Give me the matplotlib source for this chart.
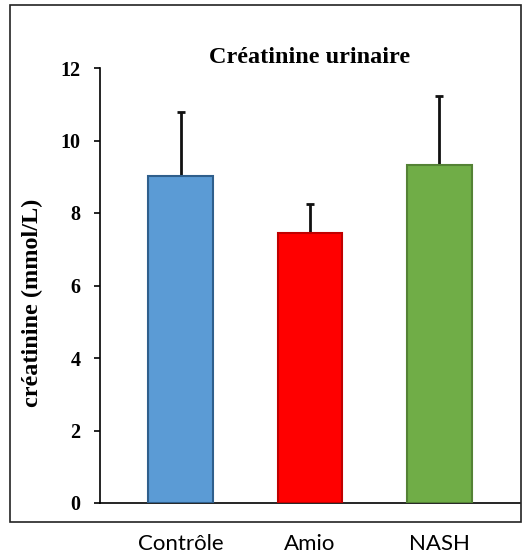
import matplotlib
matplotlib.use("Agg")
import matplotlib.pyplot as plt
from matplotlib.patches import Rectangle

# urinary creatinine per group
groups = ["Contrôle", "Amio", "NASH"]
means = [9.02, 7.45, 9.32]
sem = [1.78, 0.80, 1.90]
colors = ["#5B9BD5", "#FF0000", "#70AD47"]
edges = ["#2F5F8C", "#C00000", "#548235"]
yticks = [0, 2, 4, 6, 8, 10, 12]

fig = plt.figure(figsize=(5.31, 5.55), dpi=100)
ax = fig.add_axes([100 / 531, 1 - 503 / 555, 420 / 531, 435 / 555])

x = range(len(groups))
# error bars under the bars so only the upper half shows
ax.errorbar(x, means, yerr=[[0] * len(sem), sem], fmt="none", ecolor="#111111",
            elinewidth=2, capsize=3, capthick=2, zorder=2)
ax.bar(x, means, width=0.5, color=colors, edgecolor=edges, linewidth=1.5, zorder=3)

ax.set_xlim(-0.625, 2.625)
ax.set_ylim(0, 12)
ax.set_yticks(yticks)
ax.set_yticklabels([str(t) for t in yticks], fontfamily="Liberation Serif",
                   fontweight="bold", fontsize=14.5)
ax.tick_params(axis="y", direction="out", length=4, width=1.2, pad=10)
ax.set_xticks(list(x))
ax.set_xticklabels(groups, fontfamily="Lato", fontsize=16)
ax.tick_params(axis="x", length=0, pad=22)

for side in ["top", "right"]:
    ax.spines[side].set_visible(False)
ax.spines["left"].set_linewidth(1.2)
ax.spines["bottom"].set_linewidth(1.2)

ax.set_title("Créatinine urinaire", fontfamily="Liberation Serif", fontweight="bold",
             fontsize=17.5, pad=-4)
ax.set_ylabel("créatinine (mmol/L)", fontfamily="Liberation Serif", fontweight="bold",
              fontsize=17.5)
ax.yaxis.set_label_coords(-0.135, 0.46)

# frame around the plot area
fig.patches.append(Rectangle((10 / 531, 1 - 522 / 555), 511 / 531, 517 / 555,
                             transform=fig.transFigure, fill=False,
                             edgecolor="#222222", linewidth=1.2))

fig.savefig("out.png", dpi=100)
